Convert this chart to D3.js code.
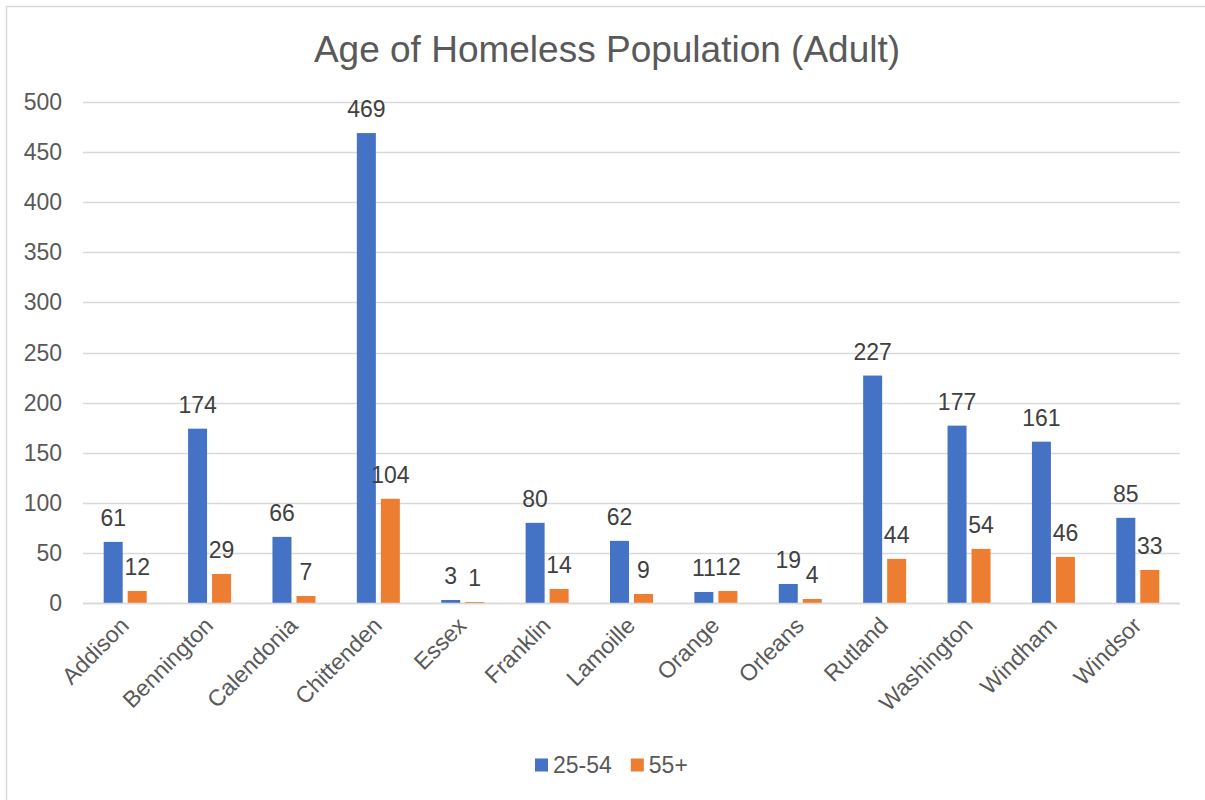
<!DOCTYPE html>
<html>
<head>
<meta charset="utf-8">
<script src="https://cdn.jsdelivr.net/npm/d3@7"></script>
<style>
  body { margin: 0; background: #fff; }
  svg { display: block; font-family: "Liberation Sans", Arial, sans-serif; }
</style>
</head>
<body>
<svg id="chart" width="1205" height="800"></svg>
<script>
const counties = ["Addison", "Bennington", "Calendonia", "Chittenden", "Essex", "Franklin", "Lamoille", "Orange", "Orleans", "Rutland", "Washington", "Windham", "Windsor"]
const age25to54 = [61, 174, 66, 469, 3, 80, 62, 11, 19, 227, 177, 161, 85]
const age55plus = [12, 29, 7, 104, 1, 14, 9, 12, 4, 44, 54, 46, 33]
const seriesNames = ["25-54", "55+"]
const yTicks = [0, 50, 100, 150, 200, 250, 300, 350, 400, 450, 500]

let svg = d3.select("#chart"),
    margin = {top: 102, right: 25, bottom: 197, left: 83},
    width = svg.attr("width") - margin.left - margin.right,
    height = svg.attr("height") - margin.top - margin.bottom

// chart box border (only left and top edges fall inside the picture)
svg.append("rect")
    .attr("x", 6.5).attr("y", 6.5)
    .attr("width", 1300).attr("height", 900)
    .attr("fill", "none")
    .attr("stroke", "#d9d9d9")
    .attr("stroke-width", 1.5)

svg.append("text")
    .attr("x", 607)
    .attr("y", 62)
    .attr("text-anchor", "middle")
    .attr("fill", "#595959")
    .style("font-size", "37px")
    .text("Age of Homeless Population (Adult)")

let g = svg.append("g").attr("transform", "translate(" + margin.left + "," + margin.top + ")")

let x = d3.scaleBand().domain(counties).range([0, width]).padding(0)
let y = d3.scaleLinear().domain([0, 500]).range([height, 0])
let colors = {"25-54": "#4472C4", "55+": "#ED7D31"}

// gridlines
g.append("g")
    .selectAll("line")
    .data(yTicks)
    .enter().append("line")
    .attr("x1", 0).attr("x2", width)
    .attr("y1", d => Math.round(y(d)) + 0.5)
    .attr("y2", d => Math.round(y(d)) + 0.5)
    .attr("stroke", "#d9d9d9")
    .attr("stroke-width", 1.5)

// y labels
g.append("g")
    .selectAll("text")
    .data(yTicks)
    .enter().append("text")
    .attr("x", -21)
    .attr("y", d => y(d))
    .attr("dy", "0.35em")
    .attr("text-anchor", "end")
    .attr("fill", "#595959")
    .style("font-size", "23px")
    .text(d => d)

let barW = 19, gap = 5
let rows = counties.map((c, i) => ({county: c, values: [age25to54[i], age55plus[i]]}))

let groups = g.selectAll(".county")
    .data(rows)
    .enter().append("g")
    .attr("class", "county")
    .attr("transform", d => "translate(" + (x(d.county) + x.bandwidth() / 2) + ",0)")

seriesNames.forEach((s, k) => {
    let off = k === 0 ? -gap / 2 - barW : gap / 2
    groups.append("rect")
        .attr("x", off)
        .attr("y", d => y(d.values[k]))
        .attr("width", barW)
        .attr("height", d => height - y(d.values[k]))
        .attr("fill", colors[s])
    groups.append("text")
        .attr("x", off + barW / 2)
        .attr("y", d => y(d.values[k]) - 16)
        .attr("text-anchor", "middle")
        .attr("fill", "#404040")
        .style("font-size", "23px")
        .text(d => d.values[k])
})

// baseline
g.append("line")
    .attr("x1", 0).attr("x2", width)
    .attr("y1", height + 0.5).attr("y2", height + 0.5)
    .attr("stroke", "#d9d9d9")
    .attr("stroke-width", 1.5)

// x labels
g.append("g")
    .selectAll("text")
    .data(counties)
    .enter().append("text")
    .attr("transform", d => "translate(" + (x(d) + x.bandwidth() / 2 + 5) + "," + (height + 24) + ") rotate(-45)")
    .attr("text-anchor", "end")
    .attr("fill", "#595959")
    .style("font-size", "23px")
    .text(d => d)

// legend
let legend = svg.append("g").attr("transform", "translate(535,765)")
let lx = 0
seriesNames.forEach(s => {
    legend.append("rect")
        .attr("x", lx).attr("y", -6.5)
        .attr("width", 13).attr("height", 13)
        .attr("fill", colors[s])
    let t = legend.append("text")
        .attr("x", lx + 18)
        .attr("y", 0)
        .attr("dy", "0.35em")
        .attr("fill", "#595959")
        .style("font-size", "23px")
        .text(s)
    lx += 18 + t.node().getComputedTextLength() + 19
})
</script>
</body>
</html>
